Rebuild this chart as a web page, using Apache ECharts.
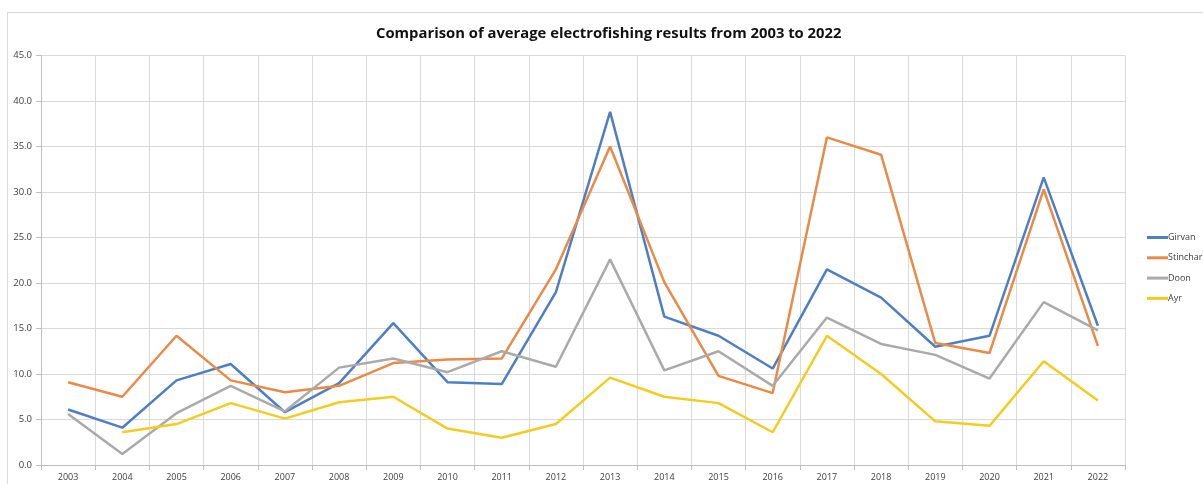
<!DOCTYPE html>
<html>
<head>
<meta charset="utf-8">
<script src="https://cdn.jsdelivr.net/npm/echarts@6/dist/echarts.min.js"></script>
<style>
  html, body { margin: 0; padding: 0; background: #ffffff; }
  #chart { width: 1203px; height: 484px; }
</style>
</head>
<body>
<div id="chart"></div>
<script>
// Survey years
const years = ['2003','2004','2005','2006','2007','2008','2009','2010','2011','2012',
               '2013','2014','2015','2016','2017','2018','2019','2020','2021','2022'];

// Average electrofishing results per river
const girvan   = [6.1, 4.1, 9.3, 11.1, 5.8, 9.0, 15.6, 9.1, 8.9, 19.0,
                  38.8, 16.3, 14.2, 10.6, 21.5, 18.4, 13.0, 14.2, 31.6, 15.3];
const stinchar = [9.1, 7.5, 14.2, 9.3, 8.0, 8.7, 11.2, 11.6, 11.7, 21.5,
                  35.0, 20.1, 9.8, 7.9, 36.0, 34.1, 13.4, 12.3, 30.3, 13.1];
const doon     = [5.6, 1.2, 5.7, 8.7, 5.9, 10.7, 11.7, 10.2, 12.5, 10.8,
                  22.6, 10.4, 12.5, 8.7, 16.2, 13.3, 12.1, 9.5, 17.9, 14.8];
const ayr      = [null, 3.6, 4.5, 6.8, 5.1, 6.9, 7.5, 4.0, 3.0, 4.5,
                  9.6, 7.5, 6.8, 3.6, 14.2, 10.0, 4.8, 4.3, 11.4, 7.1];

const seriesNames = ['Girvan', 'Stinchar', 'Doon', 'Ayr'];
const seriesData = [girvan, stinchar, doon, ayr];
const seriesColors = ['#4f7fc3', '#ea8a47', '#aaaaaa', '#f2cd1f'];

const fontFamily = '"Open Sans", "Liberation Sans", sans-serif';
const chart = echarts.init(document.getElementById('chart'), null, { renderer: 'canvas' });

chart.setOption({
  animation: false,
  backgroundColor: '#ffffff',
  title: {
    text: 'Comparison of average electrofishing results from 2003 to 2022',
    left: 376,
    top: 26,
    padding: 0,
    textStyle: { fontFamily, fontSize: 14.8, fontWeight: 'bold', color: '#111111' }
  },
  graphic: [{
    type: 'rect',
    shape: { x: 7.5, y: 12.5, width: 1400, height: 700 },
    style: { fill: 'none', stroke: '#d9d9d9', lineWidth: 1 },
    silent: true
  }],
  legend: {
    orient: 'vertical',
    left: 1142,
    top: 228,
    icon: 'rect',
    itemWidth: 21,
    itemHeight: 3,
    itemGap: 11.3,
    data: seriesNames,
    textStyle: { fontFamily, fontSize: 9, color: '#404040', padding: [0, 0, 0, -5] }
  },
  grid: { left: 41, right: 78, top: 55.5, bottom: 19, containLabel: false },
  xAxis: {
    type: 'category',
    data: years,
    boundaryGap: true,
    axisLine: { show: true, lineStyle: { color: '#bfbfbf' } },
    axisTick: { show: true, length: 5, lineStyle: { color: '#bfbfbf' } },
    axisLabel: { fontFamily, fontSize: 9, color: '#404040', margin: 8 },
    splitLine: { show: true, lineStyle: { color: '#d9d9d9' } }
  },
  yAxis: {
    type: 'value',
    min: 0,
    max: 45,
    interval: 5,
    axisLine: { show: true, lineStyle: { color: '#bfbfbf' } },
    axisTick: { show: true, length: 5, lineStyle: { color: '#bfbfbf' } },
    axisLabel: {
      fontFamily, fontSize: 9.5, color: '#404040', margin: 9,
      formatter: v => v.toFixed(1)
    },
    splitLine: { show: true, lineStyle: { color: '#d9d9d9' } }
  },
  series: seriesNames.map((name, i) => ({
    name,
    type: 'line',
    data: seriesData[i],
    symbol: 'none',
    connectNulls: false,
    color: seriesColors[i],
    lineStyle: { width: 2.5, color: seriesColors[i] }
  }))
});
</script>
</body>
</html>
